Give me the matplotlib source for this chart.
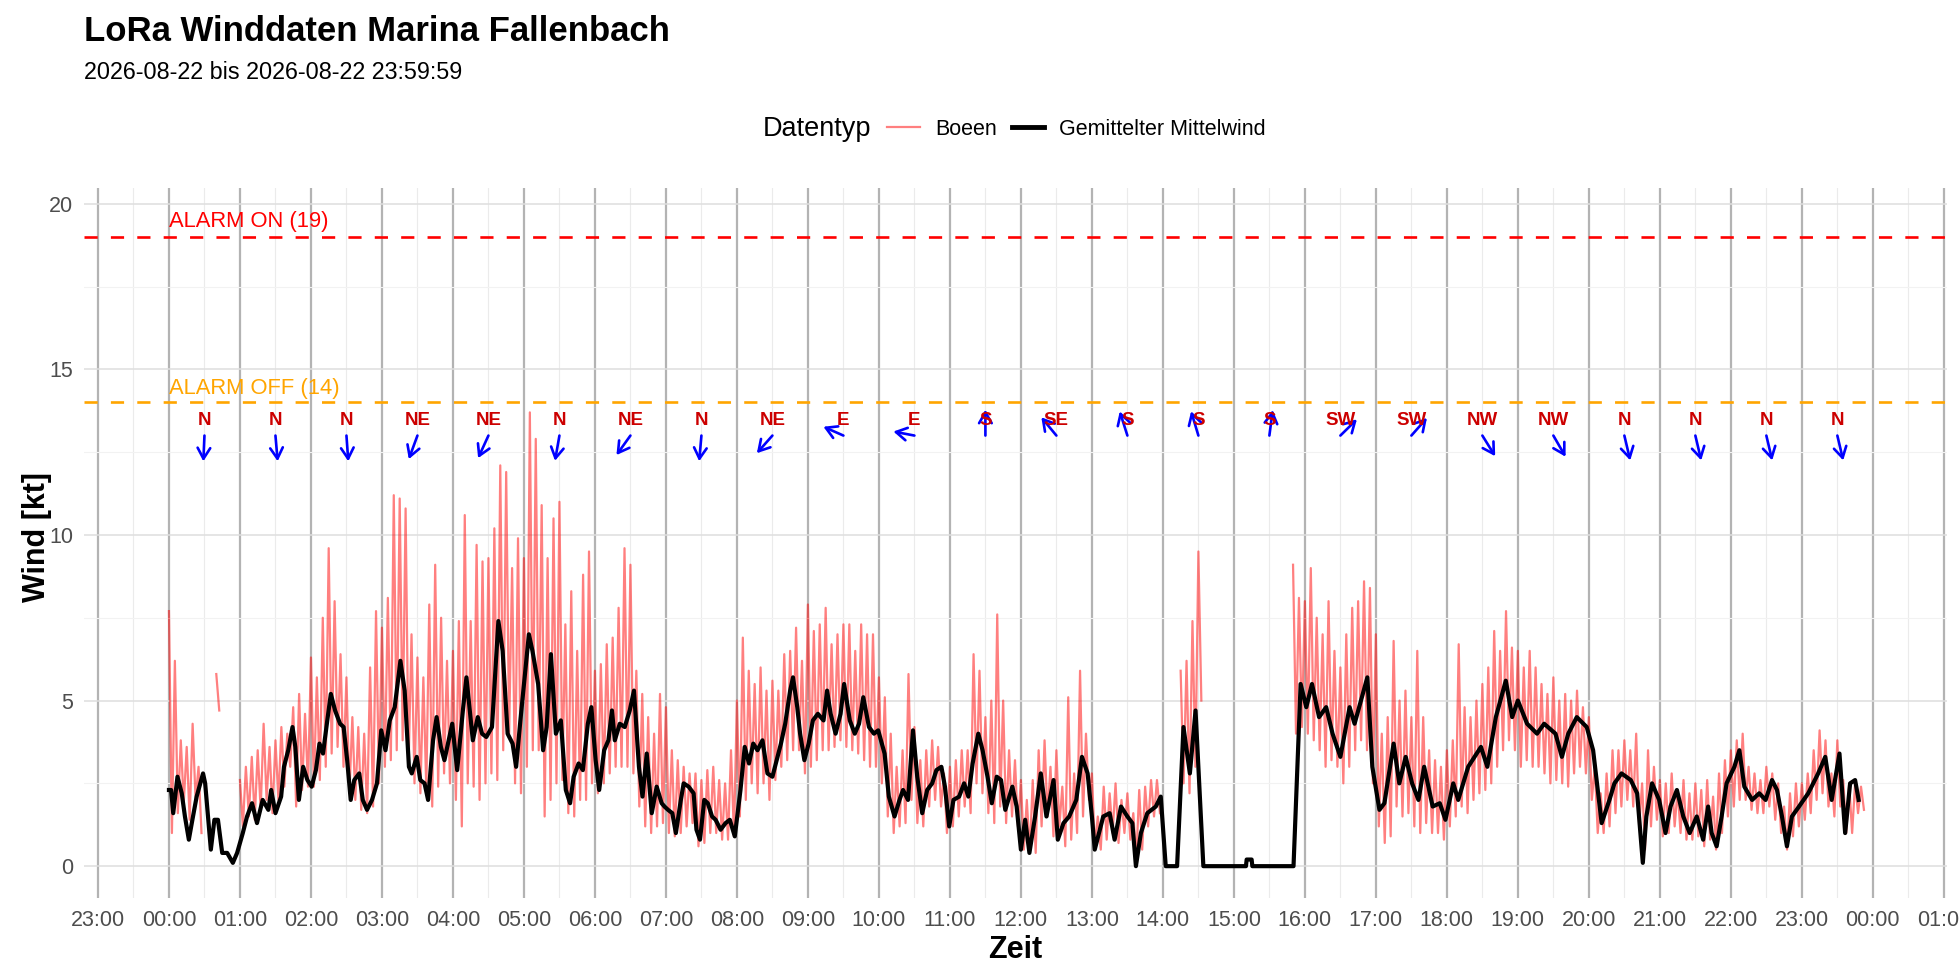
import numpy as np
import matplotlib
matplotlib.use('Agg')
import matplotlib.pyplot as plt
from matplotlib.lines import Line2D

plt.rcParams['font.family'] = ['Liberation Sans', 'DejaVu Sans']

TITLE = 'LoRa Winddaten Marina Fallenbach'
SUBTITLE = '2026-08-22 bis 2026-08-22 23:59:59'
ALARM_ON = 19
ALARM_OFF = 14

nan = np.nan

# gusts in 5-minute bins from 00:00 (peak and trough per bin) [kt]
gust_hi = [
    7.7, 6.2, 3.8, 3.6, 4.3, 3.0, nan, nan, 5.8, nan, nan, nan,      # 00
    2.6, 3.0, 3.3, 3.5, 4.3, 3.6, 3.8, 4.2, 4.0, 4.8, 5.2, 4.6,      # 01
    6.3, 5.7, 7.5, 9.6, 8.0, 6.4, 5.7, 4.5, 4.2, 4.0, 6.0, 7.7,      # 02
    7.2, 8.1, 11.2, 11.1, 10.8, 7.0, 6.3, 5.7, 7.9, 9.1, 7.5, 6.2,   # 03
    6.5, 7.4, 10.6, 7.4, 9.7, 9.2, 9.3, 10.2, 12.1, 11.9, 9.0, 9.9,  # 04
    9.3, 13.7, 12.9, 10.9, 9.3, 10.5, 11.0, 7.3, 8.3, 6.5, 8.8, 9.5, # 05
    5.9, 6.1, 6.7, 6.9, 7.8, 9.6, 9.1, 5.9, 5.2, 4.5, 4.0, 5.2,      # 06
    4.8, 3.5, 3.2, 3.0, 2.8, 2.8, 2.6, 2.9, 3.0, 2.6, 2.5, 3.5,      # 07
    5.0, 6.9, 5.9, 5.5, 6.0, 5.3, 5.6, 5.3, 6.4, 6.5, 7.2, 6.2,      # 08
    7.9, 7.1, 7.3, 7.8, 6.7, 7.0, 7.3, 7.3, 6.5, 7.3, 7.0, 7.0,      # 09
    5.7, 5.1, 4.0, 3.0, 3.5, 5.8, 4.2, 3.2, 3.5, 3.8, 3.6, 2.8,      # 10
    3.0, 3.2, 3.5, 3.5, 6.4, 5.9, 4.5, 5.0, 7.6, 5.0, 3.5, 3.2,      # 11
    2.6, 2.0, 2.6, 3.5, 3.8, 3.0, 3.5, 2.4, 5.1, 2.8, 5.9, 4.0,      # 12
    2.8, 1.5, 2.4, 2.2, 2.5, 2.0, 2.2, 1.6, 2.3, 2.4, 2.6, 2.6,      # 13
    nan, nan, nan, 5.9, 6.2, 7.4, 9.5, nan, nan, nan, nan, nan,      # 14
    nan, nan, nan, nan, nan, nan, nan, nan, nan, nan, 9.1, 8.1,      # 15
    8.0, 9.0, 7.5, 7.0, 8.0, 6.5, 6.0, 7.0, 7.8, 8.0, 8.6, 8.4,      # 16
    7.0, 4.0, 4.5, 6.8, 5.0, 5.3, 4.5, 6.5, 4.5, 3.5, 3.2, 3.0,      # 17
    3.5, 3.8, 6.7, 4.8, 4.5, 5.0, 5.5, 6.0, 7.1, 6.5, 7.7, 6.6,      # 18
    6.5, 6.0, 6.5, 6.0, 5.5, 5.2, 5.7, 5.0, 5.2, 5.0, 5.3, 4.8,      # 19
    4.5, 3.0, 2.2, 2.8, 3.5, 3.5, 3.8, 3.5, 4.0, 2.5, 3.5, 3.0,      # 20
    2.6, 2.5, 2.8, 2.3, 2.6, 2.2, 2.5, 2.3, 2.6, 2.1, 2.8, 3.2,      # 21
    3.5, 3.8, 4.0, 3.0, 2.8, 2.6, 3.0, 2.8, 2.5, 1.8, 2.2, 2.5,      # 22
    2.5, 2.8, 3.5, 4.1, 3.8, 2.8, 3.8, 2.6, 2.5, 2.5, 2.4, nan,      # 23
]
gust_lo = [
    1.0, 1.6, 1.9, 1.4, 2.0, 1.0, nan, nan, 4.7, nan, nan, nan,      # 00
    1.2, 1.5, 1.4, 1.7, 2.0, 1.6, 2.0, 2.4, 3.0, 1.8, 2.3, 2.4,      # 01
    2.4, 2.6, 3.0, 3.4, 3.6, 3.0, 2.2, 2.0, 1.7, 1.6, 1.8, 2.5,      # 02
    3.0, 3.2, 3.5, 3.8, 3.0, 2.5, 2.2, 2.3, 1.8, 2.4, 2.8, 2.5,      # 03
    2.0, 1.2, 2.5, 2.4, 2.0, 2.5, 2.8, 2.6, 3.5, 4.0, 2.5, 2.2,      # 04
    3.0, 3.5, 3.5, 1.5, 2.0, 2.5, 2.6, 1.6, 1.5, 2.0, 2.0, 2.5,      # 05
    2.2, 2.5, 2.8, 3.0, 3.0, 3.0, 2.8, 1.8, 1.2, 1.0, 1.2, 1.3,      # 06
    1.0, 0.9, 1.0, 1.2, 1.3, 0.6, 0.7, 1.0, 1.0, 0.8, 0.8, 0.9,      # 07
    1.5, 2.0, 2.5, 2.2, 2.5, 2.0, 2.6, 3.0, 3.2, 3.5, 3.5, 2.8,      # 08
    3.0, 3.2, 3.5, 3.5, 3.6, 3.8, 3.6, 3.5, 3.4, 3.2, 3.0, 3.0,      # 09
    2.5, 1.5, 1.0, 1.2, 1.3, 2.0, 1.3, 1.2, 1.8, 2.0, 1.8, 1.0,      # 10
    1.2, 1.5, 1.8, 1.6, 2.5, 2.2, 1.6, 1.3, 1.8, 1.3, 1.5, 1.2,      # 11
    0.5, 0.4, 0.4, 1.2, 1.5, 0.9, 1.2, 0.6, 0.8, 1.0, 1.5, 2.0,      # 12
    0.6, 0.5, 0.8, 1.0, 0.7, 1.0, 0.8, 0.2, 0.5, 1.2, 1.5, 1.6,      # 13
    nan, nan, nan, 2.5, 2.2, 3.0, 5.0, nan, nan, nan, nan, nan,      # 14
    nan, nan, nan, nan, nan, nan, nan, nan, nan, nan, 4.0, 4.2,      # 15
    4.0, 3.8, 3.5, 3.0, 3.2, 3.0, 2.5, 3.0, 3.5, 3.8, 3.5, 2.5,      # 16
    1.2, 0.7, 0.9, 1.8, 1.5, 1.6, 1.2, 1.0, 1.3, 1.0, 1.0, 0.8,      # 17
    1.2, 1.5, 1.8, 1.6, 2.0, 2.2, 2.3, 2.5, 3.0, 3.5, 3.8, 3.5,      # 18
    3.0, 3.2, 3.0, 3.0, 2.8, 2.5, 2.6, 2.5, 2.4, 2.8, 3.0, 2.8,      # 19
    2.0, 1.0, 1.0, 1.2, 1.6, 1.8, 2.0, 1.8, 1.2, 0.5, 1.2, 1.4,      # 20
    0.9, 1.0, 1.2, 1.0, 0.8, 0.8, 0.9, 0.6, 0.8, 0.5, 1.0, 1.5,      # 21
    1.8, 2.0, 2.0, 1.7, 1.6, 1.6, 1.8, 1.4, 1.0, 0.5, 0.9, 1.2,      # 22
    1.4, 1.6, 2.0, 2.2, 1.8, 1.5, 1.8, 1.0, 1.0, 1.6, 1.7, nan,      # 23
]

# averaged mean wind, hours since 00:00 and kt
mean_time_h = [
    0.00, 0.03, 0.06, 0.12, 0.18, 0.225, 0.28, 0.33, 0.39, 0.48, 0.51, 0.59, 0.64, 0.69, 0.75, 0.82, 0.90, 0.96,
    1.04, 1.10, 1.17, 1.24, 1.32, 1.40, 1.44, 1.50, 1.58, 1.62, 1.68, 1.74, 1.78, 1.83, 1.89, 1.95,
    2.01, 2.07, 2.12, 2.17, 2.23, 2.28, 2.34, 2.41, 2.46, 2.51, 2.56, 2.61, 2.68, 2.73, 2.79, 2.86, 2.93, 2.99,
    3.05, 3.11, 3.18, 3.26, 3.32, 3.38, 3.42, 3.49, 3.54, 3.60, 3.65, 3.72, 3.77, 3.83, 3.88, 3.95, 3.99,
    4.06, 4.14, 4.19, 4.28, 4.35, 4.41, 4.47, 4.55, 4.64, 4.70, 4.77, 4.84, 4.89, 4.95,
    5.07, 5.12, 5.20, 5.27, 5.32, 5.38, 5.45, 5.52, 5.59, 5.65, 5.70, 5.77, 5.83, 5.90, 5.95,
    6.01, 6.06, 6.13, 6.19, 6.24, 6.28, 6.35, 6.42, 6.49, 6.55, 6.62, 6.67, 6.73, 6.80, 6.87, 6.94, 6.98,
    7.03, 7.09, 7.14, 7.21, 7.25, 7.32, 7.39, 7.43, 7.48, 7.54, 7.59, 7.65, 7.70, 7.77, 7.84, 7.90, 7.97,
    8.05, 8.11, 8.17, 8.23, 8.29, 8.36, 8.43, 8.50, 8.56, 8.62, 8.68, 8.75, 8.79, 8.85, 8.89, 8.95,
    9.01, 9.07, 9.14, 9.22, 9.27, 9.32, 9.39, 9.46, 9.51, 9.59, 9.66, 9.72, 9.78, 9.86, 9.93, 9.99,
    10.08, 10.14, 10.22, 10.29, 10.34, 10.41, 10.48, 10.54, 10.61, 10.68, 10.75, 10.81, 10.88, 10.93, 10.99,
    11.05, 11.13, 11.20, 11.26, 11.32, 11.40, 11.46, 11.53, 11.59, 11.66, 11.72, 11.78, 11.88, 11.94,
    12.00, 12.06, 12.12, 12.20, 12.28, 12.36, 12.46, 12.52, 12.60, 12.68, 12.78, 12.86, 12.94,
    13.00, 13.04, 13.16, 13.25, 13.32, 13.41, 13.50, 13.57, 13.62, 13.69, 13.78, 13.90, 13.97,
    14.04, 14.20, 14.29, 14.38, 14.46, 14.57, 15.17, 15.18, 15.25, 15.26, 15.84,
    15.94, 16.02, 16.10, 16.20, 16.30, 16.39, 16.50, 16.63, 16.70, 16.88, 16.95,
    17.05, 17.12, 17.25, 17.33, 17.42, 17.51, 17.60, 17.68, 17.80, 17.90, 17.98,
    18.09, 18.16, 18.30, 18.48, 18.57, 18.69, 18.83, 18.92,
    19.00, 19.13, 19.27, 19.37, 19.53, 19.62, 19.71, 19.83, 19.97,
    20.06, 20.18, 20.29, 20.36, 20.46, 20.59, 20.68, 20.76, 20.81, 20.89, 20.99,
    21.08, 21.15, 21.24, 21.33, 21.42, 21.52, 21.61, 21.68, 21.73, 21.80, 21.87, 21.94,
    22.05, 22.12, 22.19, 22.30, 22.40, 22.49, 22.58, 22.65, 22.72, 22.79, 22.86, 22.96,
    23.09, 23.23, 23.33, 23.42, 23.53, 23.61, 23.68, 23.75, 23.80,
]
mean_kt = [
    2.3, 2.3, 1.6, 2.7, 2.2, 1.5, 0.8, 1.4, 2.1, 2.8, 2.5, 0.5, 1.4, 1.4, 0.4, 0.4, 0.1, 0.4,
    1.0, 1.5, 1.9, 1.3, 2.0, 1.7, 2.3, 1.6, 2.1, 3.0, 3.5, 4.2, 3.6, 2.0, 3.0, 2.6,
    2.4, 2.9, 3.7, 3.4, 4.4, 5.2, 4.7, 4.3, 4.2, 3.2, 2.0, 2.6, 2.8, 2.0, 1.7, 2.0, 2.5, 4.1,
    3.5, 4.4, 4.8, 6.2, 5.3, 3.0, 2.8, 3.3, 2.6, 2.5, 2.0, 3.8, 4.5, 3.6, 3.2, 3.9, 4.3,
    2.9, 4.7, 5.7, 3.8, 4.5, 4.0, 3.9, 4.2, 7.4, 6.5, 4.0, 3.7, 3.0, 4.4,
    7.0, 6.5, 5.5, 3.5, 4.2, 6.4, 4.0, 4.4, 2.3, 1.9, 2.7, 3.1, 2.9, 4.3, 4.8,
    3.2, 2.3, 3.5, 3.8, 4.7, 3.8, 4.3, 4.2, 4.7, 5.3, 3.0, 2.1, 3.4, 1.6, 2.4, 1.9, 1.8,
    1.7, 1.6, 1.0, 2.0, 2.5, 2.4, 2.2, 1.1, 0.8, 2.0, 1.9, 1.5, 1.4, 1.1, 1.3, 1.4, 0.9,
    2.3, 3.6, 3.1, 3.7, 3.5, 3.8, 2.8, 2.7, 3.2, 3.7, 4.3, 5.3, 5.7, 4.8, 4.0, 3.2,
    3.7, 4.4, 4.6, 4.4, 5.3, 4.6, 4.0, 4.6, 5.5, 4.4, 4.0, 4.3, 5.1, 4.2, 4.0, 4.1,
    3.4, 2.1, 1.5, 2.0, 2.3, 2.0, 4.1, 2.7, 1.6, 2.3, 2.5, 2.9, 3.0, 2.4, 1.2,
    2.0, 2.1, 2.5, 2.1, 3.1, 4.0, 3.5, 2.7, 1.9, 2.7, 2.6, 1.7, 2.4, 1.8,
    0.5, 1.4, 0.4, 1.5, 2.8, 1.5, 2.6, 0.8, 1.3, 1.5, 2.0, 3.3, 2.8,
    1.5, 0.5, 1.5, 1.6, 0.8, 1.8, 1.5, 1.3, 0.0, 1.0, 1.6, 1.8, 2.1,
    0.0, 0.0, 4.2, 2.8, 4.7, 0.0, 0.0, 0.2, 0.2, 0.0, 0.0,
    5.5, 4.8, 5.5, 4.5, 4.8, 4.0, 3.3, 4.8, 4.3, 5.7, 3.0,
    1.7, 1.9, 3.7, 2.5, 3.3, 2.5, 2.0, 3.0, 1.8, 1.9, 1.4,
    2.5, 2.0, 3.0, 3.6, 3.0, 4.5, 5.6, 4.5,
    5.0, 4.3, 4.0, 4.3, 4.0, 3.3, 4.0, 4.5, 4.2,
    3.5, 1.3, 2.0, 2.5, 2.8, 2.6, 2.2, 0.1, 1.5, 2.5, 2.0,
    1.0, 1.8, 2.3, 1.5, 1.0, 1.5, 0.8, 1.8, 1.0, 0.6, 1.5, 2.5,
    3.0, 3.5, 2.4, 2.0, 2.2, 2.0, 2.6, 2.3, 1.5, 0.6, 1.5, 1.8,
    2.2, 2.8, 3.3, 2.0, 3.4, 1.0, 2.5, 2.6, 2.0,
]

# half-hourly wind direction (degrees the wind comes from)
dir_time_h = [0.5, 1.5, 2.5, 3.5, 4.5, 5.5, 6.5, 7.5, 8.5, 9.5, 10.5, 11.5,
              12.5, 13.5, 14.5, 15.5, 16.5, 17.5, 18.5, 19.5, 20.5, 21.5, 22.5, 23.5]
dir_label = ['N', 'N', 'N', 'NE', 'NE', 'N', 'NE', 'N', 'NE', 'E', 'E', 'S',
             'SE', 'S', 'S', 'S', 'SW', 'SW', 'NW', 'NW', 'N', 'N', 'N', 'N']
dir_deg = [3, 354, 355, 24, 29, 12, 41, 6, 47, 110, 99, 180,
           135, 159, 160, 189, 231, 227, 323, 325, 344, 344, 344, 344]

hour_ticks = list(range(-1, 26))
hour_labels = ['23:00', '00:00', '01:00', '02:00', '03:00', '04:00', '05:00', '06:00', '07:00',
               '08:00', '09:00', '10:00', '11:00', '12:00', '13:00', '14:00', '15:00', '16:00',
               '17:00', '18:00', '19:00', '20:00', '21:00', '22:00', '23:00', '00:00', '01:00']

# ---- build gust zigzag (peak at bin start, trough half a bin later)
bin_h = 5 / 60
gt = []
gv = []
for i, (hi, lo) in enumerate(zip(gust_hi, gust_lo)):
    gt += [i * bin_h, i * bin_h + bin_h / 2]
    gv += [hi, lo]

fig = plt.figure(figsize=(19.6, 9.8), dpi=100)
ax = fig.add_axes([0.0431, 0.0832, 0.9501, 0.725])

ax.plot(gt, gv, color='#FF0000', alpha=0.5, lw=1.6, zorder=3)
ax.plot(mean_time_h, mean_kt, color='black', lw=3.0, zorder=4, solid_joinstyle='round')

ax.axhline(ALARM_ON, color='#FF0000', lw=1.9, linestyle=(0, (5, 5)), zorder=5)
ax.axhline(ALARM_OFF, color='#FFA500', lw=1.9, linestyle=(0, (5, 5)), zorder=5)
ax.text(0, ALARM_ON + 0.3, f'ALARM ON ({ALARM_ON})', color='#FF0000', fontsize=15.8,
        ha='left', va='baseline', zorder=6)
ax.text(0, ALARM_OFF + 0.25, f'ALARM OFF ({ALARM_OFF})', color='#FFA500', fontsize=15.8,
        ha='left', va='baseline', zorder=6)

for t, lab, deg in zip(dir_time_h, dir_label, dir_deg):
    rad = np.deg2rad(deg)
    x1 = t - 0.3 * np.sin(rad)
    y1 = 13.0 - 0.78 * np.cos(rad)
    ax.annotate('', xy=(x1, y1), xytext=(t, 13.0),
                arrowprops=dict(arrowstyle='->,head_length=0.6,head_width=0.35',
                                color='#0000FF', lw=1.9, shrinkA=0, shrinkB=0,
                                mutation_scale=13), zorder=6)
    ax.text(t, 13.45, lab, color='#CC0000', fontsize=13.5, fontweight='bold',
            ha='center', va='center', zorder=7)

ax.set_xlim(-1.19, 25.04)
ax.set_ylim(-0.975, 20.475)
ax.set_xticks(hour_ticks)
ax.set_xticklabels(hour_labels)
ax.set_xticks([h + 0.5 for h in hour_ticks[:-1]], minor=True)
ax.set_yticks([0, 5, 10, 15, 20])
ax.set_yticks([2.5, 7.5, 12.5, 17.5], minor=True)

ax.grid(which='major', axis='y', color='#DEDEDE', lw=1.1, zorder=0)
ax.grid(which='minor', axis='y', color='#F2F2F2', lw=0.8, zorder=0)
ax.grid(which='major', axis='x', color='#B3B3B3', lw=1.6, zorder=1)
ax.grid(which='minor', axis='x', color='#EBEBEB', lw=0.8, zorder=0)
ax.set_axisbelow(True)

for s in ax.spines.values():
    s.set_visible(False)
ax.tick_params(which='both', length=0)
ax.tick_params(axis='x', labelsize=15.5, labelcolor='#4D4D4D', pad=8)
ax.tick_params(axis='y', labelsize=15.5, labelcolor='#4D4D4D', pad=8)

fig.text(0.0431, 0.958, TITLE, fontsize=25, fontweight='bold', ha='left', va='baseline')
fig.text(0.0431, 0.919, SUBTITLE, fontsize=16.8, ha='left', va='baseline')
fig.text(0.019, 0.452, 'Wind [kt]', fontsize=22, fontweight='bold', rotation=90,
         ha='center', va='center')
fig.text(0.518, 0.031, 'Zeit', fontsize=22, fontweight='bold', ha='center', va='center')

fig.text(0.389, 0.868, 'Datentyp', fontsize=19.5, ha='left', va='center')
handles = [Line2D([], [], color='#FF0000', alpha=0.5, lw=1.6),
           Line2D([], [], color='black', lw=3.5)]
fig.legend(handles, ['Boeen', 'Gemittelter Mittelwind'], loc='center left',
           bbox_to_anchor=(0.4528, 0.868), ncol=2, frameon=False, fontsize=15.5,
           borderpad=0, borderaxespad=0, handlelength=1.5, handletextpad=0.7,
           columnspacing=0.7)

fig.savefig('out.png', dpi=100)
